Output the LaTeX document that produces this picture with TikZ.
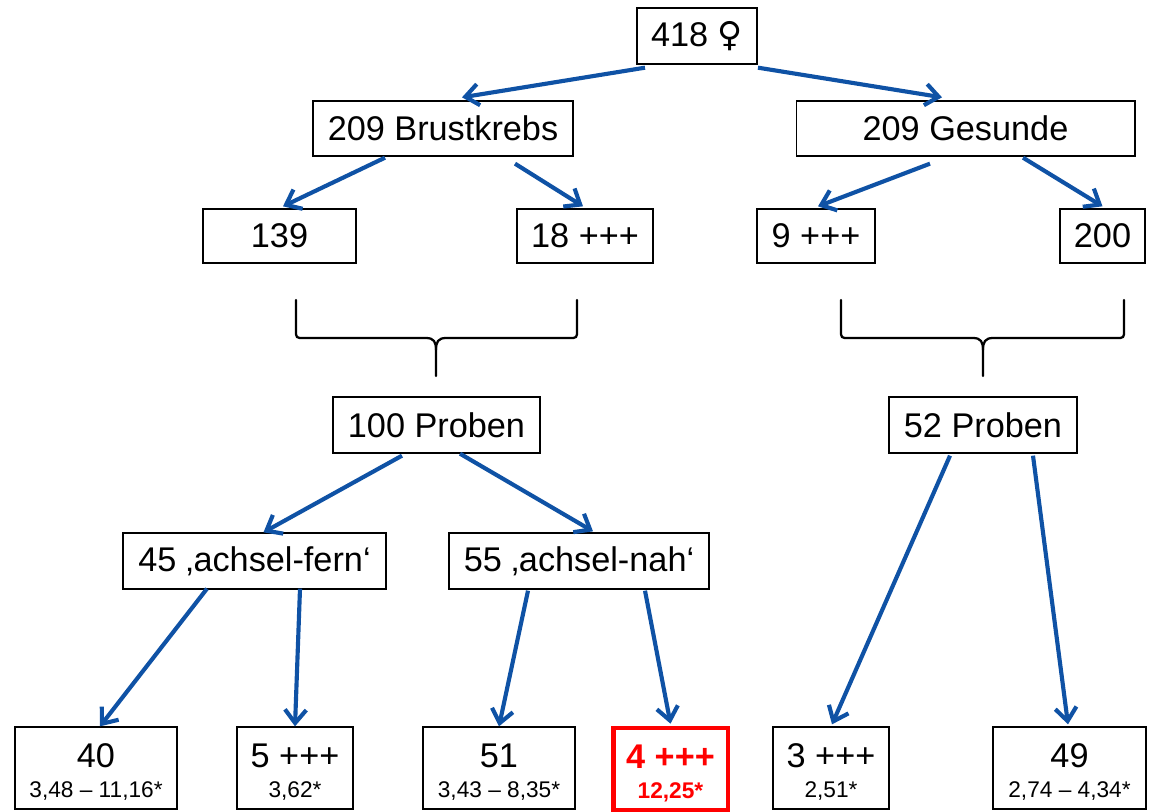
\documentclass[tikz,border=0pt]{standalone}
\usepackage{fontspec}
\setmainfont{Liberation Sans}
\newfontfamily\symbfont{DejaVu Sans}
\usetikzlibrary{arrows.meta,calc}
\definecolor{arrowblue}{HTML}{0F52A5}

\begin{document}
\begin{tikzpicture}[x=0.75pt,y=-0.75pt,
    box/.style={draw=black, line width=1pt, rectangle, inner sep=0pt, font=\fontsize{25.7}{30}\selectfont},
    leaf/.style={box, align=center, minimum height=61.5pt, font=\fontsize{25.7}{22.5}\selectfont},
    arr/.style={-{Straight Barb[length=10pt,width=16pt]}, line width=3.1pt, arrowblue},
    brace/.style={line width=1.7pt, black, line cap=round}]
            \useasboundingbox (0,0) rectangle (1153,811);
            \node[box, minimum width=90pt, minimum height=42pt](top) at (697,36){418 {\symbfont ♀}};
            \node[box, minimum width=195pt, minimum height=41.25pt](krebs) at (443,128.5){209 Brustkrebs};
            \node[box, minimum width=254pt, minimum height=41.25pt](gesund) at (965.5,128.5){209 Gesunde};
            \node[box, minimum width=114.75pt, minimum height=40.5pt](kA) at (279.5,236){139};
            \node[box, minimum width=102pt, minimum height=40.5pt](kB) at (585,236){18 +++};
            \node[box, minimum width=88.5pt, minimum height=40.5pt](gA) at (816,236){9 +++};
            \node[box, minimum width=63.75pt, minimum height=40.5pt](gB) at (1102.5,236){200};
            % braces
            \draw[brace] (296,300) -- (296,330) .. controls (296,338) .. (304,338) -- (426,338) .. controls (434,338) and (436,342) .. (436,350) -- (436,376);
            \draw[brace] (577,300) -- (577,330) .. controls (577,338) .. (569,338) -- (446,338) .. controls (438,338) and (436,342) .. (436,350);
            \draw[brace] (841,300) -- (841,330) .. controls (841,338) .. (849,338) -- (973,338) .. controls (981,338) and (983,342) .. (983,350) -- (983,376);
            \draw[brace] (1124,300) -- (1124,330) .. controls (1124,338) .. (1116,338) -- (993,338) .. controls (985,338) and (983,342) .. (983,350);
            \node[box, minimum width=155.25pt, minimum height=42pt](probenK) at (436.5,425){100 Proben};
            \node[box, minimum width=141pt, minimum height=42pt](probenG) at (983,425){52 Proben};
            \node[box, minimum width=197.25pt, minimum height=42pt](fern) at (254.5,561){45 ‚achsel-fern‘};
            \node[box, minimum width=195pt, minimum height=42pt](nah) at (579,561){55 ‚achsel-nah‘};
            \node[leaf, minimum width=121.5pt](fernA) at (96,768){\rule{0pt}{24.5pt}40\\\fontsize{17}{22.5}\selectfont 3,48 – 11,16*};
            \node[leaf, minimum width=87pt](fernB) at (295,768){\rule{0pt}{24.5pt}5 +++\\\fontsize{17}{22.5}\selectfont 3,62*};
            \node[leaf, minimum width=114pt](nahA) at (499,768){\rule{0pt}{24.5pt}51\\\fontsize{17}{22.5}\selectfont 3,43 – 8,35*};
            \node[leaf, draw=red, text=red, line width=3.5pt, minimum width=86pt](nahB) at (670.5,769){\rule{0pt}{24.5pt}\bfseries 4 +++\\\fontsize{17}{22.5}\selectfont\bfseries 12,25*};
            \node[leaf, minimum width=87pt](gesA) at (831,768){\rule{0pt}{24.5pt}3 +++\\\fontsize{17}{22.5}\selectfont 2,51*};
            \node[leaf, minimum width=114.75pt](gesB) at (1069.5,768){\rule{0pt}{24.5pt}49\\\fontsize{17}{22.5}\selectfont 2,74 – 4,34*};
            % arrows
            \draw[arr] ($(top.south)+(-52,3)$) -- ($(krebs.north)+(19,-3)$);
            \draw[arr] ($(top.south)+(61,3)$) -- ($(gesund.north)+(-23.5,-3)$);
            \draw[arr] ($(krebs.south)+(-58,1)$) -- ($(kA.north)+(3.5,-2)$);
            \draw[arr] ($(krebs.south)+(72,7)$) -- ($(kB.north)+(-2,-2)$);
            \draw[arr] ($(gesund.south)+(-35.5,7)$) -- ($(gA.north)+(2,-2)$);
            \draw[arr] ($(gesund.south)+(57.5,1)$) -- ($(gB.north)+(0,-2)$);
            \draw[arr] ($(probenK.south)+(-34.5,2)$) -- ($(fern.north)+(9,0)$);
            \draw[arr] ($(probenK.south)+(23.5,0)$) -- ($(nah.north)+(14,-1)$);
            \draw[arr] ($(probenG.south)+(-33,2)$) -- ($(gesA.north)+(1,-2)$);
            \draw[arr] ($(probenG.south)+(50,2)$) -- ($(gesB.north)+(-1.5,-2)$);
            \draw[arr] ($(fern.south)+(-47.5,-1)$) -- ($(fernA.north)+(4,0)$);
            \draw[arr] ($(fern.south)+(45.5,-1)$) -- (fernB.north);
            \draw[arr] ($(nah.south)+(-51,1)$) -- (nahA.north);
            \draw[arr] ($(nah.south)+(66,1)$) -- ($(nahB.north)+(0,-2)$);
        \end{tikzpicture}
\end{document}
